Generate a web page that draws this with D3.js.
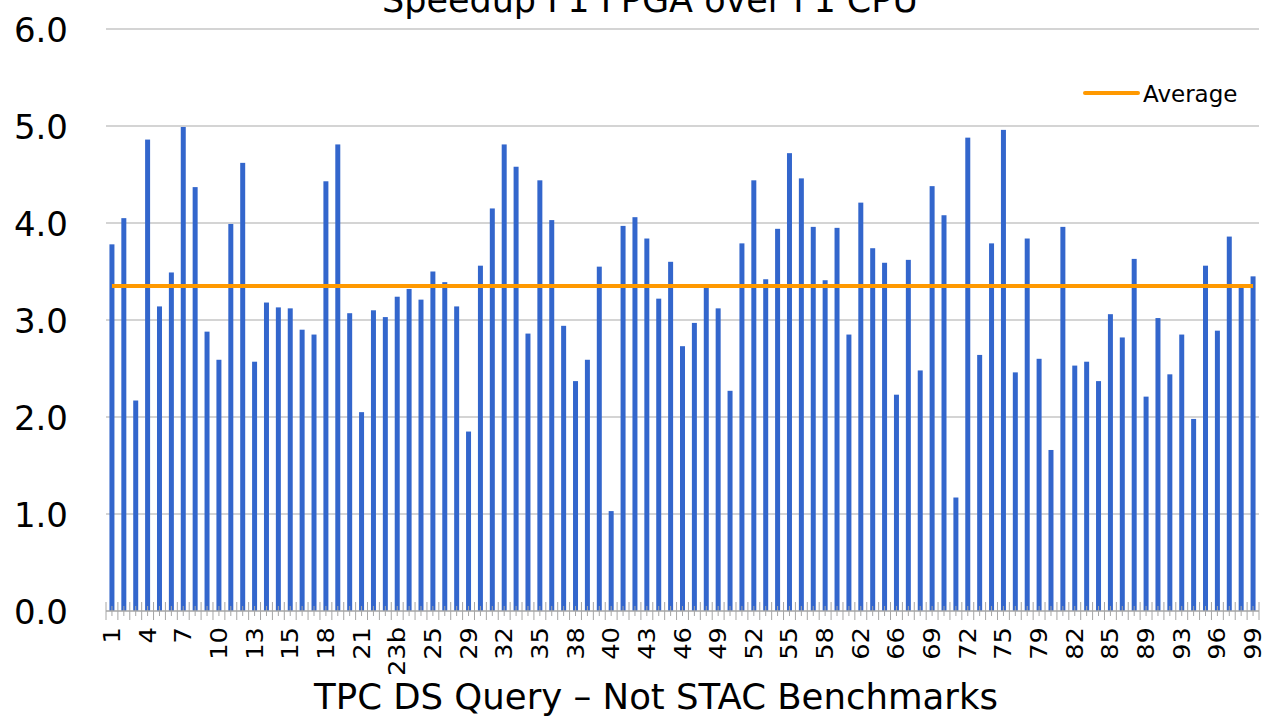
<!DOCTYPE html>
<html>
<head>
<meta charset="utf-8">
<script src="https://cdn.jsdelivr.net/npm/d3@7"></script>
<style>
  html, body { margin: 0; padding: 0; background: #ffffff; }
  svg { display: block; }
  text { font-family: "DejaVu Sans", Verdana, sans-serif; fill: #000; }
</style>
</head>
<body>
<svg id="chart" width="1263" height="718"></svg>
<script>
// ---- Data ----
const queries = [
  "1","2","3","4","5","6","7","8","9","10","11","12","13","14a","14b","15",
  "16","17","18","19","20","21","22","23a","23b","24a","24b","25","26","27","29","30",
  "31","32","33","34","35","36","37","38","39a","39b","40","41","42","43","44","45",
  "46","47","48","49","50","51","52","53","54","55","56","57","58","59","60","62",
  "63","64","66","67","68","69","70","71","72","73","74","75","76","77","79","80",
  "81","82","83","84","85","86","87","89","90","91","93","94","95","96","97","98","99"
];
const speedup = [
  3.78, 4.05, 2.17, 4.86, 3.14, 3.49, 4.99, 4.37, 2.88, 2.59, 3.99, 4.62, 2.57, 3.18, 3.13, 3.12,
  2.90, 2.85, 4.43, 4.81, 3.07, 2.05, 3.10, 3.03, 3.24, 3.32, 3.21, 3.50, 3.39, 3.14, 1.85, 3.56,
  4.15, 4.81, 4.58, 2.86, 4.44, 4.03, 2.94, 2.37, 2.59, 3.55, 1.03, 3.97, 4.06, 3.84, 3.22, 3.60,
  2.73, 2.97, 3.33, 3.12, 2.27, 3.79, 4.44, 3.42, 3.94, 4.72, 4.46, 3.96, 3.41, 3.95, 2.85, 4.21,
  3.74, 3.59, 2.23, 3.62, 2.48, 4.38, 4.08, 1.17, 4.88, 2.64, 3.79, 4.96, 2.46, 3.84, 2.60, 1.66,
  3.96, 2.53, 2.57, 2.37, 3.06, 2.82, 3.63, 2.21, 3.02, 2.44, 2.85, 1.98, 3.56, 2.89, 3.86, 3.33, 3.45
];
const averageSpeedup = [3.35];
const yTicks = [0, 1, 2, 3, 4, 5, 6];
const titleText = "Speedup F1 FPGA over F1 CPU";
const xAxisTitle = "TPC DS Query \u2013 Not STAC Benchmarks";
const legendLabel = "Average";

// ---- Layout ----
const plot = { left: 106, right: 1259, top: 29, bottom: 611 };
const svg = d3.select("#chart");

const x = d3.scaleBand()
  .domain(queries)
  .range([plot.left, plot.right])
  .paddingInner(0.58)
  .paddingOuter(0.29);

const y = d3.scaleLinear().domain([0, 6]).range([plot.bottom, plot.top]);

// Gridlines
svg.append("g").selectAll("line")
  .data(yTicks.filter(d => d > 0))
  .join("line")
  .attr("x1", plot.left).attr("x2", plot.right)
  .attr("y1", d => y(d)).attr("y2", d => y(d))
  .attr("stroke", "#c6c6c6").attr("stroke-width", 1.5);

// Y axis labels
const yAxis = d3.axisLeft(y).tickValues(yTicks).tickFormat(d3.format(".1f")).tickSize(0).tickPadding(0);
const yG = svg.append("g").attr("transform", `translate(68,0)`).call(yAxis);
yG.select(".domain").remove();
yG.selectAll("text").attr("font-size", 34).attr("font-family", "DejaVu Sans").attr("fill", "#000").attr("dy", "0.36em");

// Bars
svg.append("g").selectAll("rect")
  .data(queries.map((q, i) => ({ q, v: speedup[i] })))
  .join("rect")
  .attr("x", d => x(d.q))
  .attr("width", x.bandwidth())
  .attr("y", d => y(d.v))
  .attr("height", d => y(0) - y(d.v))
  .attr("fill", "#3366cc");

// X axis with category ticks
const step = x.step();
const axisG = svg.append("g");
axisG.append("line")
  .attr("x1", plot.left).attr("x2", plot.right)
  .attr("y1", y(0)).attr("y2", y(0))
  .attr("stroke", "#a6a6a6").attr("stroke-width", 1.5);
const boundaries = d3.range(queries.length + 1).map(i => plot.left + i * step);
axisG.selectAll("line.tick-major")
  .data(boundaries)
  .join("line")
  .attr("class", "tick-major")
  .attr("x1", d => d).attr("x2", d => d)
  .attr("y1", y(0) - 9).attr("y2", y(0) + 9)
  .attr("stroke", "#a6a6a6").attr("stroke-width", 1);
axisG.selectAll("line.tick-minor")
  .data(queries)
  .join("line")
  .attr("class", "tick-minor")
  .attr("x1", d => x(d) + x.bandwidth() / 2).attr("x2", d => x(d) + x.bandwidth() / 2)
  .attr("y1", y(0) - 5).attr("y2", y(0) + 5)
  .attr("stroke", "#a6a6a6").attr("stroke-width", 1);

// X tick labels (every 3rd category), slightly stretched along the reading direction
const xLabelG = svg.append("g");
xLabelG.selectAll("text")
  .data(queries.filter((q, i) => i % 3 === 0))
  .join("text")
  .attr("transform", d => `translate(${x(d) + x.bandwidth() / 2 + 8},627) rotate(-90) scale(1.12,1)`)
  .attr("text-anchor", "end")
  .attr("font-size", 23)
  .text(d => d);

// Average line
const avgLine = d3.line().x(d => x(d) + x.bandwidth() / 2).y(() => y(averageSpeedup[0]));
svg.append("path")
  .datum(queries)
  .attr("d", avgLine)
  .attr("fill", "none")
  .attr("stroke", "#ff9900")
  .attr("stroke-width", 4);

// Legend
const legend = svg.append("g");
legend.append("line")
  .attr("x1", 1085).attr("x2", 1138).attr("y1", 93).attr("y2", 93)
  .attr("stroke", "#ff9900").attr("stroke-width", 4).attr("stroke-linecap", "round");
legend.append("text")
  .attr("x", 1143).attr("y", 102)
  .attr("font-size", 23)
  .text(legendLabel);

// Title (partially clipped at top, as in the reference)
svg.append("text")
  .attr("x", 650).attr("y", 12)
  .attr("text-anchor", "middle")
  .attr("font-size", 35)
  .text(titleText);

// X axis title
svg.append("text")
  .attr("x", 656).attr("y", 709)
  .attr("text-anchor", "middle")
  .attr("font-size", 35.5)
  .text(xAxisTitle);
</script>
</body>
</html>
